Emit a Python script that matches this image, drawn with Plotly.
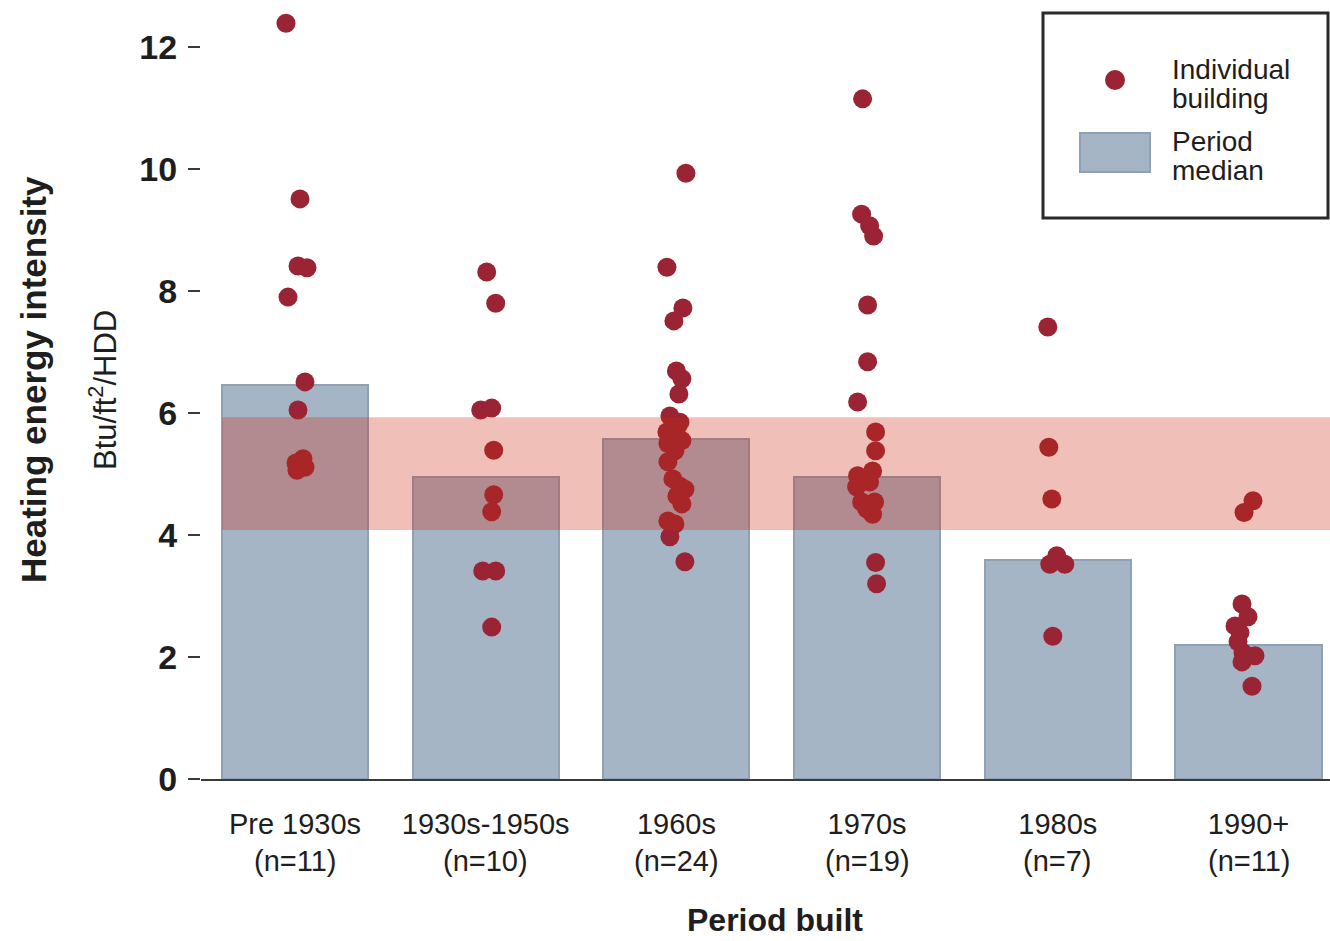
import plotly.graph_objects as go

# ---------------- data ----------------
categories = ["Pre 1930s", "1930s-1950s", "1960s", "1970s", "1980s", "1990+"]
n_labels = ["(n=11)", "(n=10)", "(n=24)", "(n=19)", "(n=7)", "(n=11)"]
period_median = [6.46, 4.95, 5.57, 4.95, 3.59, 2.20]

vals_pre1930 = [12.39, 9.51, 8.41, 8.38, 7.90, 6.51, 6.05, 5.25, 5.18, 5.11, 5.06]
vals_1930_1950 = [8.31, 7.80, 6.08, 6.05, 5.39, 4.66, 4.38, 3.41, 3.41, 2.49]
vals_1960s = [9.93, 8.39, 7.72, 7.51, 6.69, 6.56, 6.31, 5.95, 5.85, 5.79, 5.69, 5.55,
              5.50, 5.38, 5.20, 4.92, 4.80, 4.75, 4.64, 4.51, 4.23, 4.18, 3.97, 3.56]
vals_1970s = [11.15, 9.26, 9.07, 8.90, 7.77, 6.84, 6.18, 5.69, 5.38, 5.05, 4.97, 4.87,
              4.79, 4.54, 4.54, 4.43, 4.34, 3.55, 3.20]
vals_1980s = [7.41, 5.44, 4.59, 3.66, 3.52, 3.52, 2.34]
vals_1990s = [4.56, 4.37, 2.87, 2.66, 2.51, 2.40, 2.25, 2.07, 2.02, 1.92, 1.52]

# horizontal jitter of each point (in pixels of the original chart)
jit_pre1930 = [-9, 5, 3, 12, -7, 10, 3, 8, 1, 10, 2]
jit_1930_1950 = [1, 10, 6, -5, 8, 8, 6, -3, 10, 6]
jit_1960s = [9.5, -9.5, 6.5, -2.5, 0, 5.5, 2.5, -6.5, 3.5, 1.5, -9.5, 5.5,
             -8.5, -1.5, -8.5, -3.5, 3.5, 8.5, 0.5, 5.5, -8.5, -1.5, -6.5, 8.5]
jit_1970s = [-4.5, -5.5, 2.5, 6.5, 0.5, 0.5, -9.5, 8.5, 8.5, 5.5, -9.5, 2.5,
             -10.5, -5.5, 7.5, -0.5, 5.5, 8.5, 9.5]
jit_1980s = [-10, -9, -6, -1, -8, 7, -5]
jit_1990s = [4.5, -4.5, -6.5, -0.5, -13.5, -8.5, -10.5, -5.5, 6.5, -6.5, 3.5]

band_low, band_high = 4.08, 5.93

all_vals = [vals_pre1930, vals_1930_1950, vals_1960s, vals_1970s, vals_1980s, vals_1990s]
all_jit = [jit_pre1930, jit_1930_1950, jit_1960s, jit_1970s, jit_1980s, jit_1990s]

# ---------------- layout geometry ----------------
W, H = 1330, 941
PL, PR, PT, PB = 201, 1330, 0, 779     # plot area in pixels
CAT_PX = 190.7                          # pixels per category
X0_CENTER = 295                         # pixel of first category centre
x_min = (PL - X0_CENTER) / CAT_PX
x_max = (PR - X0_CENTER) / CAT_PX
y_max = (PB - PT) / 61.0


def px(x):
    return (x - PL) / (PR - PL)


def py(y):
    return (PB - y) / (PB - PT)


pt_x, pt_y = [], []
for i, (vs, js) in enumerate(zip(all_vals, all_jit)):
    for v, j in zip(vs, js):
        pt_x.append(i + j / CAT_PX)
        pt_y.append(v)

BAR_FILL = "#a5b5c6"
BAR_LINE = "#8ea1b5"
DOT = "#9a2433"
TXT = "#1e1e1e"
FONT = "Liberation Sans, Arial, sans-serif"

fig = go.Figure()
fig.add_trace(go.Bar(
    x=list(range(len(categories))), y=period_median, width=0.766,
    marker=dict(color=BAR_FILL, line=dict(color=BAR_LINE, width=2)),
    name="Period median", showlegend=False, hoverinfo="y",
))
fig.add_trace(go.Scatter(
    x=pt_x, y=pt_y, mode="markers",
    marker=dict(size=19, color=DOT, line=dict(width=0)),
    name="Individual building", showlegend=False,
))

shapes = [
    # target band, drawn above the data
    dict(type="rect", xref="x", yref="y", x0=(222 - X0_CENTER) / CAT_PX, x1=x_max,
         y0=band_low, y1=band_high, fillcolor="rgba(205,42,15,0.30)",
         line=dict(width=0), layer="above"),
    # legend box
    dict(type="rect", xref="paper", yref="paper", x0=px(1043), x1=px(1328),
         y0=py(218), y1=py(13), fillcolor="rgba(0,0,0,0)",
         line=dict(color="#2a2a2a", width=3), layer="above"),
    dict(type="circle", xref="paper", yref="paper", x0=px(1105), x1=px(1125),
         y0=py(90), y1=py(70), fillcolor=DOT, line=dict(width=0), layer="above"),
    dict(type="rect", xref="paper", yref="paper", x0=px(1080), x1=px(1150),
         y0=py(172), y1=py(133), fillcolor=BAR_FILL,
         line=dict(color=BAR_LINE, width=2), layer="above"),
]

annotations = []
for i, lab in enumerate(n_labels):
    annotations.append(dict(x=i, xref="x", y=0, yref="paper", yshift=-(861 - PB),
                            text=lab, showarrow=False, yanchor="middle",
                            font=dict(family=FONT, size=29, color=TXT)))
for text, yy in [("Individual", 70), ("building", 99), ("Period", 141), ("median", 170)]:
    annotations.append(dict(x=px(1170), xref="paper", y=py(yy), yref="paper",
                            text=text, showarrow=False, xanchor="left", yanchor="middle",
                            font=dict(family=FONT, size=28, color=TXT)))
annotations.append(dict(x=px(775), xref="paper", y=0, yref="paper", yshift=-(920 - PB),
                        text="Period built", showarrow=False, yanchor="middle",
                        font=dict(family=FONT, size=32, color=TXT, weight="bold")))
annotations.append(dict(x=px(33), xref="paper", y=py(380), yref="paper",
                        text="Heating energy intensity", textangle=-90, showarrow=False,
                        xanchor="center", yanchor="middle",
                        font=dict(family=FONT, size=35, color=TXT, weight="bold")))
annotations.append(dict(x=px(103), xref="paper", y=py(390), yref="paper",
                        text="Btu/ft<sup>2</sup>/HDD", textangle=-90, showarrow=False,
                        xanchor="center", yanchor="middle",
                        font=dict(family=FONT, size=31, color=TXT)))

fig.update_layout(
    width=W, height=H,
    margin=dict(l=PL, r=W - PR, t=PT, b=H - PB),
    paper_bgcolor="white", plot_bgcolor="white",
    showlegend=False, bargap=0,
    shapes=shapes, annotations=annotations,
    xaxis=dict(range=[x_min, x_max], tickvals=list(range(len(categories))),
               ticktext=categories, showgrid=False, zeroline=False,
               showline=True, linecolor="#3a3a3a", linewidth=2, ticks="",
               ticklabelstandoff=18,
               tickfont=dict(family=FONT, size=29, color=TXT)),
    yaxis=dict(range=[0, y_max], tickvals=[0, 2, 4, 6, 8, 10, 12],
               showgrid=False, zeroline=False, showline=False,
               ticks="outside", ticklen=12, tickwidth=2, tickcolor="#3a3a3a",
               ticklabelstandoff=4,
               tickfont=dict(family=FONT, size=34, color=TXT, weight="bold")),
)

fig.write_html("out.html", config={"displayModeBar": False},
               post_script="document.body.style.margin='0';document.body.style.overflow='hidden';")
